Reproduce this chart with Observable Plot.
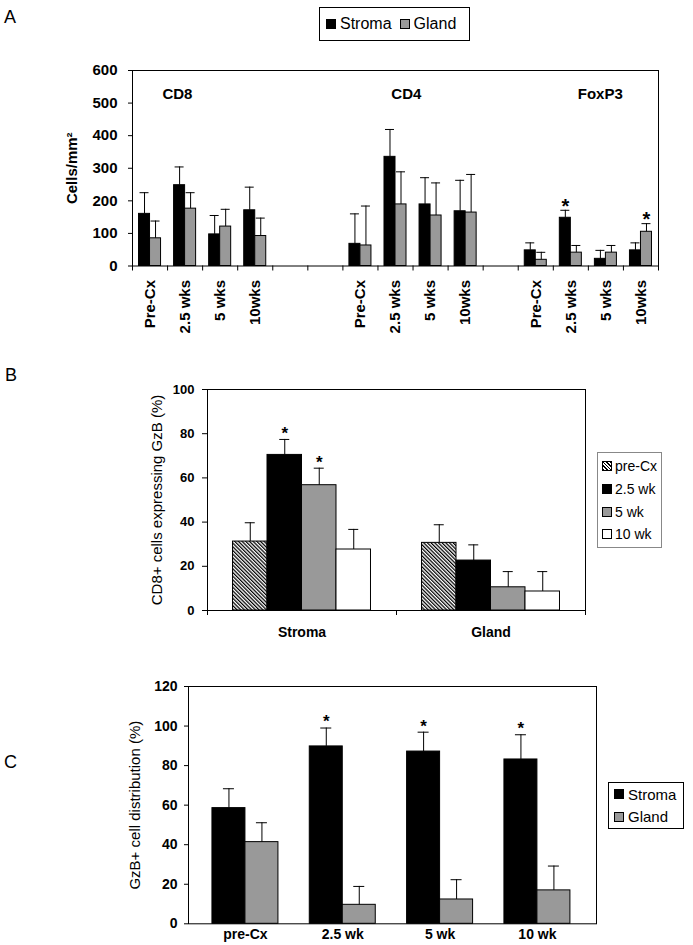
<!DOCTYPE html>
<html>
<head>
<meta charset="utf-8">
<script src="https://cdn.jsdelivr.net/npm/d3@7"></script>
<script src="https://cdn.jsdelivr.net/npm/@observablehq/plot@0.6"></script>
<style>
  body { margin: 0; background: #fff; }
  #page { position: relative; width: 693px; height: 945px; overflow: hidden; background: #fff;
          font-family: "Liberation Sans", Arial, sans-serif; color: #000; }
  .letter { position: absolute; font-size: 18px; line-height: 18px; }
  .legend { position: absolute; box-sizing: border-box; background: #fff; display: flex; }
  .item { display: flex; align-items: center; white-space: nowrap; }
  .sw { display: inline-block; box-sizing: border-box; width: 10px; height: 10px; border: 1px solid #000; }
  svg.chart { position: absolute; left: 0; }
</style>
</head>
<body>
<svg width="0" height="0" style="position:absolute">
  <defs>
    <pattern id="hatch" width="2.6" height="2.6" patternUnits="userSpaceOnUse" patternTransform="rotate(-45)">
      <rect width="2.6" height="2.6" fill="#fff"></rect>
      <line x1="0.6" y1="0" x2="0.6" y2="2.6" stroke="#000" stroke-width="1.3"></line>
    </pattern>
  </defs>
</svg>
<div id="page"></div>
<script>
// ---------- Panel A data ----------
const aGroups = ["CD8", "CD4", "FoxP3"];
const aTimes = ["Pre-Cx", "2.5 wks", "5 wks", "10wks"];
const aSeries = ["Stroma", "Gland"];
const aSeriesColors = ["#000000", "#999999"];
// category slots along the axis ("" = empty slot)
const aAxisSlots = ["CD8", "CD8", "CD8", "CD8", "", "", "CD4", "CD4", "CD4", "CD4", "", "FoxP3", "FoxP3", "FoxP3", "FoxP3"];
const aStroma   = [160, 248, 97, 171,   68, 335, 189, 168,   48, 148, 22, 48];
const aStromaSD = [ 65,  56, 58,  71,   92,  84,  82,  95,   23,  23, 26, 23];
const aGland    = [ 85, 176, 121, 92,   63, 189, 155, 164,   19,  41, 41, 105];
const aGlandSD  = [ 53,  49,  53, 55,  121, 100, 100, 117,   23,  22, 22, 25];
const aStromaSig = [0, 0, 0, 0,  0, 0, 0, 0,  0, 1, 0, 0];
const aGlandSig  = [0, 0, 0, 0,  0, 0, 0, 0,  0, 0, 0, 1];
const aYTicks = [0, 100, 200, 300, 400, 500, 600];
const aGroupLabelAt = [1.28, 7.81, 13.34];
const aYLabel = "Cells/mm\u00B2";

// ---------- Panel B data ----------
const bCategories = ["Stroma", "Gland"];
const bSeries = ["pre-Cx", "2.5 wk", "5 wk", "10 wk"];
const bFills = ["url(#hatch)", "#000000", "#999999", "#ffffff"];
const bValues = [[31.2, 30.6], [70.4, 22.6], [56.7, 10.5], [27.6, 8.6]];
const bSD     = [[ 8.5,  8.2], [ 7.0,  7.1], [ 7.7,  7.1], [ 9.1, 9.0]];
const bSig    = [[0, 0], [1, 0], [1, 0], [0, 0]];
const bYTicks = [0, 20, 40, 60, 80, 100];
const bYLabel = "CD8+ cells expressing GzB (%)";

// ---------- Panel C data ----------
const cTimes = ["pre-Cx", "2.5 wk", "5 wk", "10 wk"];
const cSeries = ["Stroma", "Gland"];
const cSeriesColors = ["#000000", "#999999"];
const cStroma   = [58.5, 89.7, 87.1, 83.1];
const cStromaSD = [ 9.8,  9.3,  9.8, 12.5];
const cGland    = [41.3,  9.6, 12.3, 16.9];
const cGlandSD  = [ 9.8,  9.3, 10.0, 12.3];
const cStromaSig = [0, 1, 1, 1];
const cGlandSig  = [0, 0, 0, 0];
const cYTicks = [0, 20, 40, 60, 80, 100, 120];
const cYLabel = "GzB+ cell distribution (%)";

const FONT = "'Liberation Sans', Arial, sans-serif";
const page = document.getElementById("page");

function place(svg, top) {
  svg.classList.add("chart");
  svg.style.top = top + "px";
  page.appendChild(svg);
}
function letter(t, left, top) {
  const d = document.createElement("div");
  d.className = "letter"; d.textContent = t;
  d.style.left = left + "px"; d.style.top = top + "px";
  page.appendChild(d);
}
function swatch(fill) {
  const s = document.createElement("span");
  s.className = "sw";
  s.style.background = fill.startsWith("url")
    ? "repeating-linear-gradient(45deg, #000 0 1.1px, #fff 1.1px 2.5px)" : fill;
  return s;
}
function legend(labels, fills, o) {
  const box = document.createElement("div");
  box.className = "legend";
  Object.assign(box.style, {
    left: o.left + "px", top: o.top + "px", width: o.width + "px", height: o.height + "px",
    border: "1px solid " + o.border, flexDirection: o.dir, fontSize: o.fontSize + "px",
    padding: o.padding, alignItems: o.dir === "row" ? "center" : "stretch"
  });
  labels.forEach((lab, i) => {
    const it = document.createElement("div");
    it.className = "item";
    if (o.dir === "column") it.style.height = o.rowH + "px";
    else if (i > 0) it.style.marginLeft = o.itemGap + "px";
    const sw = swatch(fills[i]);
    sw.style.marginRight = o.swGap + "px";
    it.appendChild(sw);
    it.appendChild(document.createTextNode(lab));
    box.appendChild(it);
  });
  page.appendChild(box);
}

// ---------- Panel A ----------
const rowsA = [];
aGroups.forEach((g, gi) => aTimes.forEach((t, ti) => {
  const k = gi * aTimes.length + ti;
  const slot = aAxisSlots.indexOf(g) + ti;
  rowsA.push({group: g, time: t, series: aSeries[0], s: 0, slot, value: aStroma[k], sd: aStromaSD[k], sig: aStromaSig[k]});
  rowsA.push({group: g, time: t, series: aSeries[1], s: 1, slot, value: aGland[k], sd: aGlandSD[k], sig: aGlandSig[k]});
}));
const aW = 0.314;
const aX1 = d => d.slot + 0.5 + (d.s - 1) * aW;
const aXc = d => aX1(d) + aW / 2;
const aLabels = [];
aGroups.forEach(g => aTimes.forEach((t, ti) => aLabels.push({x: aAxisSlots.indexOf(g) + ti + 0.5, text: t})));

const plotA = Plot.plot({
  width: 693, height: 300,
  marginTop: 20, marginBottom: 84.5, marginLeft: 132, marginRight: 35,
  style: {fontFamily: FONT, fontSize: "15px", color: "#000", background: "transparent", overflow: "visible"},
  x: {domain: [0, aAxisSlots.length]},
  y: {domain: [0, 600]},
  color: {domain: aSeries, range: aSeriesColors},
  marks: [
    Plot.rect(rowsA, {x1: aX1, x2: d => aX1(d) + aW, y1: 0, y2: "value", fill: "series", stroke: "#000", strokeWidth: 1}),
    Plot.ruleX(rowsA, {x: aXc, y1: "value", y2: d => d.value + d.sd, stroke: "#000"}),
    Plot.ruleY(rowsA, {y: d => d.value + d.sd, x1: aXc, x2: aXc, insetLeft: -4.5, insetRight: -4.5, stroke: "#000"}),
    Plot.text(rowsA.filter(d => d.sig), {x: aXc, y: d => d.value + d.sd, text: () => "*", dy: -4, fontSize: 20, fontWeight: "bold"}),
    Plot.text(aGroups, {x: (d, i) => aGroupLabelAt[i], frameAnchor: "top", dy: 18, text: d => d, fontSize: 15, fontWeight: "bold"}),
    Plot.text([aYLabel], {frameAnchor: "left", textAnchor: "middle", dx: -60, rotate: -90, text: d => d, fontSize: 15, fontWeight: "bold"}),
    Plot.axisY({ticks: aYTicks, tickSize: 4, tickPadding: 11, fontSize: 15, fontWeight: "bold", label: null}),
    Plot.axisX({ticks: d3.range(0, aAxisSlots.length + 1), tickSize: 5, tickFormat: () => "", label: null}),
    Plot.text(aLabels, {x: "x", text: "text", frameAnchor: "bottom", dy: 14, rotate: -90, textAnchor: "end", lineAnchor: "middle", fontSize: 15, fontWeight: "bold"}),
    Plot.frame({stroke: "#000"})
  ]
});
place(plotA, 50);
legend(aSeries, aSeriesColors, {left: 319, top: 7, width: 151, height: 34, border: "#000", dir: "row", fontSize: 16, padding: "0 0 0 6px", swGap: 4, itemGap: 8});
letter("A", 4, 8);

// ---------- Panel B ----------
const rowsB = [];
bCategories.forEach((c, ci) => bSeries.forEach((s, si) => {
  rowsB.push({cat: c, ci, series: s, si, value: bValues[si][ci], sd: bSD[si][ci], sig: bSig[si][ci]});
}));
const bW = 0.1825;
const bX1 = d => d.ci + 0.5 + (d.si - bSeries.length / 2) * bW;
const bXc = d => bX1(d) + bW / 2;
const plotB = Plot.plot({
  width: 693, height: 280,
  marginTop: 19, marginBottom: 40, marginLeft: 207, marginRight: 108,
  style: {fontFamily: FONT, fontSize: "13px", color: "#000", background: "transparent", overflow: "visible"},
  x: {domain: [0, bCategories.length]},
  y: {domain: [0, 100]},
  color: {domain: bSeries, range: bFills},
  marks: [
    Plot.rect(rowsB, {x1: bX1, x2: d => bX1(d) + bW, y1: 0, y2: "value", fill: "series", stroke: "#000", strokeWidth: 1}),
    Plot.ruleX(rowsB, {x: bXc, y1: "value", y2: d => d.value + d.sd, stroke: "#000"}),
    Plot.ruleY(rowsB, {y: d => d.value + d.sd, x1: bXc, x2: bXc, insetLeft: -5, insetRight: -5, stroke: "#000"}),
    Plot.text(rowsB.filter(d => d.sig), {x: bXc, y: d => d.value + d.sd, text: () => "*", dy: -6, fontSize: 17, fontWeight: "bold"}),
    Plot.text([bYLabel], {frameAnchor: "left", textAnchor: "middle", dx: -50.5, rotate: -90, text: d => d, fontSize: 15}),
    Plot.axisY({ticks: bYTicks, tickSize: 5, tickPadding: 8, fontSize: 13, fontWeight: "bold", label: null}),
    Plot.axisX({ticks: d3.range(0, bCategories.length + 1), tickSize: 5, tickFormat: () => "", label: null}),
    Plot.axisX({ticks: bCategories.map((c, i) => i + 0.5), tickSize: 0, tickPadding: 17, tickFormat: d => bCategories[Math.floor(d)], fontSize: 14, fontWeight: "bold", label: null}),
    Plot.frame({stroke: "#000"})
  ]
});
place(plotB, 370);
legend(bSeries, bFills, {left: 597, top: 452, width: 65, height: 96, border: "#888", dir: "column", fontSize: 14, padding: "2px 0 0 4px", swGap: 3, rowH: 22.7});
letter("B", 5, 366);

// ---------- Panel C ----------
const rowsC = [];
cTimes.forEach((t, ti) => {
  rowsC.push({time: t, ti, series: cSeries[0], s: 0, value: cStroma[ti], sd: cStromaSD[ti], sig: cStromaSig[ti]});
  rowsC.push({time: t, ti, series: cSeries[1], s: 1, value: cGland[ti], sd: cGlandSD[ti], sig: cGlandSig[ti]});
});
const cW = 0.339;
const cX1 = d => d.ti + 0.5 + (d.s - 1) * cW;
const cXc = d => cX1(d) + cW / 2;
const plotC = Plot.plot({
  width: 693, height: 275,
  marginTop: 16, marginBottom: 21.7, marginLeft: 188, marginRight: 97,
  style: {fontFamily: FONT, fontSize: "13px", color: "#000", background: "transparent", overflow: "visible"},
  x: {domain: [-0.085, 4.107]},
  y: {domain: [0, 120]},
  color: {domain: cSeries, range: cSeriesColors},
  marks: [
    Plot.rect(rowsC, {x1: cX1, x2: d => cX1(d) + cW, y1: 0, y2: "value", fill: "series", stroke: "#000", strokeWidth: 1}),
    Plot.ruleX(rowsC, {x: cXc, y1: "value", y2: d => d.value + d.sd, stroke: "#000"}),
    Plot.ruleY(rowsC, {y: d => d.value + d.sd, x1: cXc, x2: cXc, insetLeft: -5.5, insetRight: -5.5, stroke: "#000"}),
    Plot.text(rowsC.filter(d => d.sig), {x: cXc, y: d => d.value + d.sd, text: () => "*", dy: -6, fontSize: 17, fontWeight: "bold"}),
    Plot.text([cYLabel], {frameAnchor: "left", textAnchor: "middle", dx: -53, rotate: -90, text: d => d, fontSize: 15}),
    Plot.axisY({ticks: cYTicks, tickSize: 4, tickPadding: 7, fontSize: 14, fontWeight: "bold", label: null}),
    Plot.axisX({ticks: cTimes.map((t, i) => i + 0.5), tickSize: 0, tickPadding: 5, tickFormat: d => cTimes[Math.floor(d)], fontSize: 14, fontWeight: "bold", label: null}),
    Plot.frame({stroke: "#000"})
  ]
});
place(plotC, 670);
legend(cSeries, cSeriesColors, {left: 608, top: 782, width: 76, height: 47, border: "#000", dir: "column", fontSize: 15, padding: "0 0 0 5px", swGap: 4, rowH: 22.5});
letter("C", 4, 753);
</script>
</body>
</html>
